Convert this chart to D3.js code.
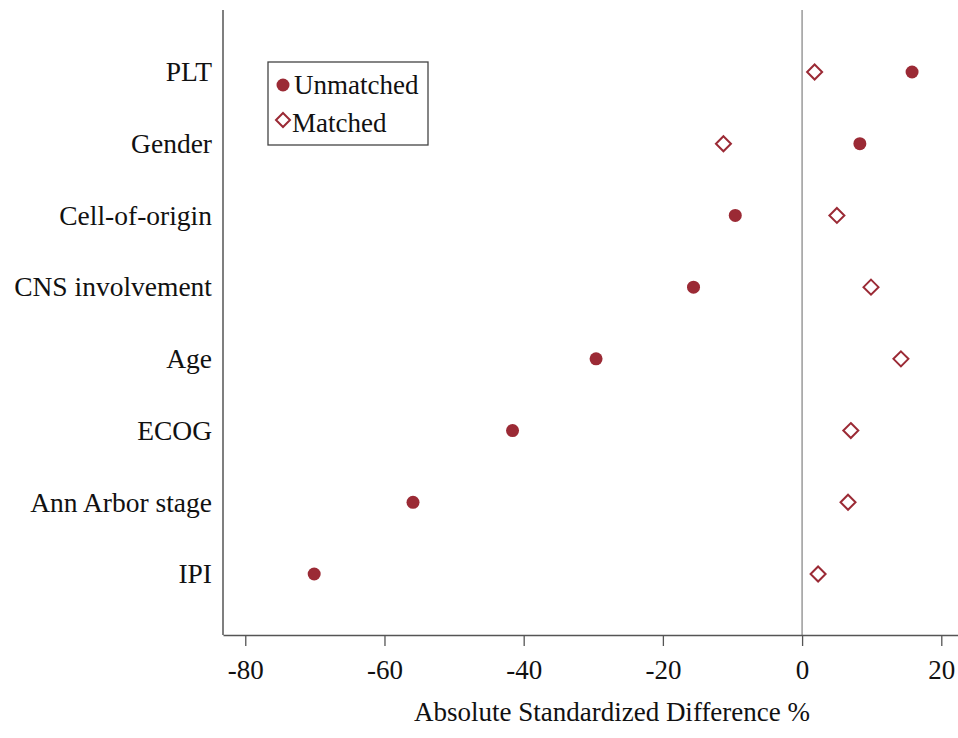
<!DOCTYPE html>
<html>
<head>
<meta charset="utf-8">
<script src="https://cdn.jsdelivr.net/npm/d3@7"></script>
<style>
  body { margin: 0; background: #fff; }
  svg text { font-family: "Liberation Serif", "DejaVu Serif", serif; fill: #111; }
</style>
</head>
<body>
<div class="chart"></div>
<script>
  // Covariates, top to bottom
  const categories = ["PLT", "Gender", "Cell-of-origin", "CNS involvement", "Age", "ECOG", "Ann Arbor stage", "IPI"];
  // Standardized difference (%) before and after matching
  const unmatched = [15.8, 8.3, -9.6, -15.6, -29.6, -41.6, -55.9, -70.1];
  const matched = [1.8, -11.3, 5.0, 9.9, 14.2, 7.0, 6.6, 2.3];
  const xTicks = [-80, -60, -40, -20, 0, 20];
  const xTitle = "Absolute Standardized Difference %";

  const w = 958;
  const h = 738;
  const color = "#9b2a35";

  /* Scales */
  const xScale = d3.scaleLinear()
                  .domain([-83.2, 22.4])
                  .range([223, 958]);

  const yScale = d3.scalePoint()
                  .domain(categories)
                  .range([72, 574]);

  const plotTop = 10;
  const plotBottom = 635;

  const svg = d3.select(".chart")
             .append("svg")
             .attr("width", w)
             .attr("height", h);

  /* Zero reference line */
  svg.append("line")
    .attr("x1", xScale(0)).attr("x2", xScale(0))
    .attr("y1", plotTop).attr("y2", plotBottom)
    .attr("stroke", "#9a9a9a")
    .attr("stroke-width", 1.5);

  /* X axis */
  const xAxis = d3.axisBottom(xScale)
                  .tickValues(xTicks)
                  .tickSize(11)
                  .tickSizeOuter(0)
                  .tickPadding(14)
                  .tickFormat(d3.format("d"));

  const gx = svg.append("g")
    .attr("transform", "translate(0," + plotBottom + ")")
    .call(xAxis);
  gx.select(".domain").attr("stroke", "#555").attr("stroke-width", 1.5);
  gx.selectAll(".tick line").attr("stroke", "#555").attr("stroke-width", 1.3);
  gx.selectAll(".tick text")
    .attr("font-size", "27px")
    .attr("font-family", "Liberation Serif")
    .attr("fill", "#111")
    .text(d => d < 0 ? "-" + Math.abs(d) : d);

  /* Y axis */
  svg.append("line")
    .attr("x1", 223).attr("x2", 223)
    .attr("y1", plotTop).attr("y2", plotBottom)
    .attr("stroke", "#555")
    .attr("stroke-width", 1.5);

  const yAxis = d3.axisLeft(yScale)
                  .tickSize(0)
                  .tickPadding(11);

  const gy = svg.append("g")
    .attr("transform", "translate(223,0)")
    .call(yAxis);
  gy.select(".domain").remove();
  gy.selectAll(".tick text")
    .attr("font-size", "27.5px")
    .attr("font-family", "Liberation Serif")
    .attr("fill", "#111");

  /* Axis title */
  svg.append("text")
    .attr("x", 612)
    .attr("y", 721)
    .attr("text-anchor", "middle")
    .attr("font-size", "27px")
    .text(xTitle);

  /* Points */
  const diamond = (s) => `M0,${-s}L${s},0L0,${s}L${-s},0Z`;

  svg.selectAll(".unmatched")
    .data(unmatched)
    .enter()
    .append("circle")
    .attr("class", "unmatched")
    .attr("cx", d => xScale(d))
    .attr("cy", (d, i) => yScale(categories[i]))
    .attr("r", 6.5)
    .attr("fill", color);

  svg.selectAll(".matched")
    .data(matched)
    .enter()
    .append("path")
    .attr("class", "matched")
    .attr("d", diamond(7.5))
    .attr("transform", (d, i) => "translate(" + xScale(d) + "," + yScale(categories[i]) + ")")
    .attr("fill", "#fff")
    .attr("stroke", color)
    .attr("stroke-width", 2);

  /* Legend */
  const legend = svg.append("g");
  legend.append("rect")
    .attr("x", 268).attr("y", 62)
    .attr("width", 160).attr("height", 83)
    .attr("fill", "#fff")
    .attr("stroke", "#444")
    .attr("stroke-width", 1.3);
  legend.append("circle")
    .attr("cx", 283).attr("cy", 85)
    .attr("r", 6.5)
    .attr("fill", color);
  legend.append("text")
    .attr("x", 294).attr("y", 94)
    .attr("font-size", "27px")
    .text("Unmatched");
  legend.append("path")
    .attr("d", diamond(7))
    .attr("transform", "translate(283,120)")
    .attr("fill", "#fff")
    .attr("stroke", color)
    .attr("stroke-width", 2);
  legend.append("text")
    .attr("x", 292).attr("y", 132)
    .attr("font-size", "27px")
    .text("Matched");
</script>
</body>
</html>
